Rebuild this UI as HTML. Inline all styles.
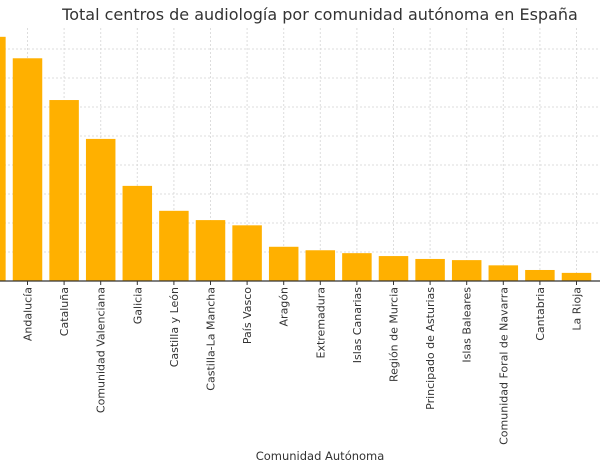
<!DOCTYPE html>
<html><head><meta charset="utf-8"><style>
html,body{margin:0;padding:0;background:#fff;}
svg{display:block;font-family:"DejaVu Sans","Liberation Sans",sans-serif;}
</style></head><body>
<svg id="chart" width="600" height="470" viewBox="0 0 600 470">
<text x="320" y="20" text-anchor="middle" font-size="16" fill="#333">Total centros de audiología por comunidad autónoma en España</text>
<g id="grid"></g>
<g id="bars"></g>
<line x1="0" y1="281" x2="600" y2="281" stroke="#333" stroke-width="1.2"/>
<g id="xlabels"></g>
<text x="320" y="460" text-anchor="middle" font-size="11.5" fill="#333">Comunidad Autónoma</text>
</svg>
<script>
const categories = ["Comunidad de Madrid","Andalucía","Cataluña","Comunidad Valenciana","Galicia","Castilla y León","Castilla-La Mancha","País Vasco","Aragón","Extremadura","Islas Canarias","Región de Murcia","Principado de Asturias","Islas Baleares","Comunidad Foral de Navarra","Cantabria","La Rioja"];
const values = [421,384,312,245,164,121,105,96,59,53,48,43,38,36,27,19,14];
const gridValues = [50,100,150,200,250,300,350,400];

const NS="http://www.w3.org/2000/svg";
const baseY=281, pxPerUnit=0.58, x0=-9.1, pitch=36.6, barW=29.5;
function yScale(v){return baseY - v*pxPerUnit;}
function xScale(i){return x0 + i*pitch;}
const svg=document.getElementById('chart');
const grid=document.getElementById('grid'), bars=document.getElementById('bars'), xl=document.getElementById('xlabels');
gridValues.forEach(v=>{
  const l=document.createElementNS(NS,'line');
  l.setAttribute('x1',0);l.setAttribute('x2',600);
  l.setAttribute('y1',yScale(v));l.setAttribute('y2',yScale(v));
  l.setAttribute('stroke','#ddd');l.setAttribute('stroke-dasharray','2,2');
  
  
  grid.appendChild(l);
});
categories.forEach((c,i)=>{
  const cx=xScale(i);
  const g=document.createElementNS(NS,'line');
  g.setAttribute('x1',cx);g.setAttribute('x2',cx);g.setAttribute('y1',28);g.setAttribute('y2',baseY);
  g.setAttribute('stroke','#ddd');g.setAttribute('stroke-dasharray','2,2');
  
  
  grid.appendChild(g);
  const r=document.createElementNS(NS,'rect');
  r.setAttribute('x',cx-barW/2);r.setAttribute('width',barW);
  r.setAttribute('y',yScale(values[i]));r.setAttribute('height',baseY-yScale(values[i]));
  r.setAttribute('fill','#FFB000');
  
  
  bars.appendChild(r);
  const t=document.createElementNS(NS,'line');
  t.setAttribute('x1',cx);t.setAttribute('x2',cx);t.setAttribute('y1',baseY);t.setAttribute('y2',baseY+4);
  t.setAttribute('stroke','#333');
  
  
  xl.appendChild(t);
  const tx=document.createElementNS(NS,'text');
  tx.setAttribute('transform','translate('+(cx+4)+','+(baseY+6)+') rotate(-90)');
  tx.setAttribute('text-anchor','end');tx.setAttribute('font-size','11');tx.setAttribute('fill','#333');
  tx.textContent=c;
  
  
  xl.appendChild(tx);
});
</script>
</body></html>
